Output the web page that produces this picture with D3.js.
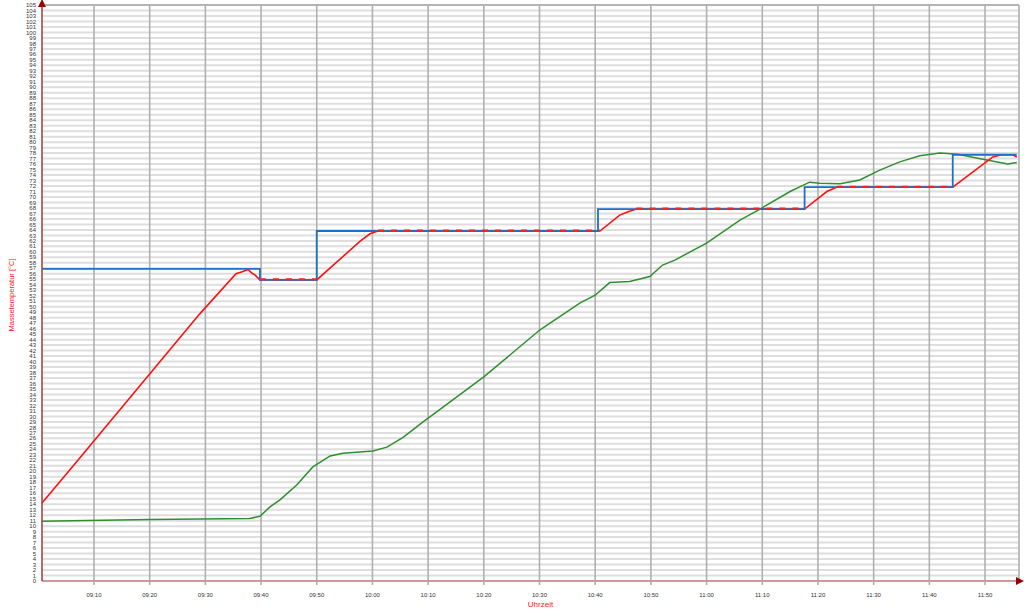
<!DOCTYPE html>
<html>
<head>
<meta charset="utf-8">
<script src="https://cdn.jsdelivr.net/npm/d3@7"></script>
<style>
  body { margin: 0; background: #fff; }
  svg { display: block; font-family: "Liberation Sans", Arial, sans-serif; }
</style>
</head>
<body>
<script>
// Chart size
const width = 1024;
const height = 614;
const margin = { top: 5, right: 5, bottom: 33, left: 42 };

// Time span shown on the x axis
const timeStart = "09:00:40";
const timeEnd = "11:56:06";

// Setpoint (blue step line)
const setTimes = ["09:00:40", "09:39:48", "09:50:00", "10:40:30", "11:17:36", "11:44:12", "11:55:42"];
const setValues = [56.9, 54.9, 63.8, 67.8, 71.8, 77.7, 77.7];

// Massetemperatur (red line)
const redTimes = ["09:00:40", "09:07:11", "09:29:00", "09:35:30", "09:36:45", "09:37:39", "09:38:24", "09:38:54",
  "09:39:48", "09:50:00", "09:57:45", "09:59:33", "10:01:00", "10:40:51", "10:44:24", "10:45:54", "10:47:24",
  "11:17:36", "11:21:36", "11:23:24", "11:44:12", "11:51:24", "11:53:00", "11:55:00", "11:55:42"];
const redValues = [14.2, 22.1, 48.7, 56.0, 56.4, 56.8, 56.1, 55.8,
  54.9, 54.9, 61.9, 63.3, 63.8, 63.8, 66.7, 67.3, 67.8,
  67.8, 71.0, 71.8, 71.8, 77.3, 77.7, 77.7, 77.3];

// Second temperature (green line)
const greenTimes = ["09:00:40", "09:20:00", "09:38:00", "09:39:48", "09:41:36", "09:43:24", "09:46:24", "09:49:18",
  "09:52:24", "09:54:42", "10:00:06", "10:02:36", "10:05:30", "10:09:06", "10:20:00", "10:30:06", "10:37:18",
  "10:40:00", "10:42:36", "10:46:12", "10:49:48", "10:52:06", "10:54:18", "11:00:00", "11:06:00", "11:09:36",
  "11:15:00", "11:18:30", "11:20:18", "11:24:00", "11:27:30", "11:31:06", "11:34:42", "11:38:18", "11:41:54",
  "11:45:06", "11:48:00", "11:51:00", "11:54:06", "11:55:42"];
const greenValues = [10.9, 11.2, 11.4, 11.8, 13.5, 14.8, 17.5, 20.8,
  22.8, 23.3, 23.7, 24.4, 26.2, 29.0, 37.2, 45.8, 50.7,
  52.1, 54.4, 54.6, 55.5, 57.6, 58.5, 61.6, 65.8, 67.8,
  71.0, 72.7, 72.5, 72.4, 73.1, 74.9, 76.4, 77.5, 78.0,
  77.8, 77.2, 76.6, 76.0, 76.3];

// Axis settings
const yMax = 105;
const yTitle = "Massetemperatur [°C]";
const xTitle = "Uhrzeit";

const parse = d3.timeParse("%H:%M:%S");
const toPoints = (ts, vs) => ts.map((t, i) => ({ t: parse(t), v: vs[i] }));

const setData = toPoints(setTimes, setValues);
const redData = toPoints(redTimes, redValues);
const greenData = toPoints(greenTimes, greenValues);

const x = d3.scaleTime()
  .domain([parse(timeStart), parse(timeEnd)])
  .range([margin.left, width - margin.right]);

const y = d3.scaleLinear()
  .domain([0, yMax])
  .range([height - margin.bottom, margin.top]);

const svg = d3.select("body")
  .append("svg")
  .attr("width", width)
  .attr("height", height);

// Horizontal grid, one line per degree
const yTicks = d3.range(0, yMax + 1);
svg.append("g")
  .selectAll("line")
  .data(yTicks)
  .join("line")
  .attr("x1", margin.left)
  .attr("x2", width - margin.right)
  .attr("y1", d => y(d))
  .attr("y2", d => y(d))
  .attr("stroke", d => d === yMax ? "#b4b4b4" : "#dedede")
  .attr("stroke-width", 2);

// Vertical grid every 10 minutes
const xTicks = x.ticks(d3.timeMinute.every(10));
svg.append("g")
  .selectAll("line")
  .data(xTicks)
  .join("line")
  .attr("x1", d => x(d))
  .attr("x2", d => x(d))
  .attr("y1", margin.top)
  .attr("y2", height - margin.bottom + 4)
  .attr("stroke", "#b0b0b0")
  .attr("stroke-width", 1.6);

// right border
svg.append("line")
  .attr("x1", width - margin.right).attr("x2", width - margin.right)
  .attr("y1", margin.top).attr("y2", height - margin.bottom)
  .attr("stroke", "#b0b0b0")
  .attr("stroke-width", 1.6);

// Y tick labels
svg.append("g")
  .selectAll("text")
  .data(yTicks)
  .join("text")
  .attr("x", margin.left - 6)
  .attr("y", d => y(d))
  .attr("dy", "0.35em")
  .attr("text-anchor", "end")
  .style("font-size", "6px")
  .style("fill", "#333")
  .text(d => d);

// X tick labels
const fmt = d3.timeFormat("%H:%M");
svg.append("g")
  .selectAll("text")
  .data(xTicks)
  .join("text")
  .attr("x", d => x(d))
  .attr("y", height - margin.bottom + 16)
  .attr("text-anchor", "middle")
  .style("font-size", "6px")
  .style("fill", "#333")
  .text(d => fmt(d));

// Lines
const line = d3.line().x(d => x(d.t)).y(d => y(d.v));
const stepLine = d3.line().x(d => x(d.t)).y(d => y(d.v)).curve(d3.curveStepAfter);

svg.append("path")
  .datum(greenData)
  .attr("fill", "none")
  .attr("stroke", "#2f8f2f")
  .attr("stroke-width", 1.5)
  .attr("d", line);

svg.append("path")
  .datum(redData)
  .attr("fill", "none")
  .attr("stroke", "#ff1010")
  .attr("stroke-width", 1.6)
  .attr("d", line);

svg.append("path")
  .datum(setData)
  .attr("fill", "none")
  .attr("stroke", "#1f6fc8")
  .attr("stroke-width", 1.8)
  .attr("d", stepLine);

// red on the plateaus shows through the blue as dashes
const plateaus = d3.pairs(redData).filter(([a, b]) =>
  Math.abs(a.v - b.v) < 0.3 && (b.t - a.t) > 3 * 60000);
svg.append("g")
  .selectAll("path")
  .data(plateaus)
  .join("path")
  .attr("fill", "none")
  .attr("stroke", "#ff2020")
  .attr("stroke-width", 2)
  .attr("stroke-dasharray", "6,7")
  .attr("transform", "translate(0,-0.5)")
  .attr("d", line);

// Axes with arrows
const axisColor = "#a04848";
svg.append("line")
  .attr("x1", margin.left).attr("x2", width - margin.right)
  .attr("y1", height - margin.bottom).attr("y2", height - margin.bottom)
  .attr("stroke", "#c89a9a")
  .attr("stroke-width", 2);
svg.append("line")
  .attr("x1", margin.left).attr("x2", margin.left)
  .attr("y1", height - margin.bottom).attr("y2", margin.top - 2)
  .attr("stroke", axisColor)
  .attr("stroke-width", 1.6);

const ax = margin.left, ay = margin.top - 3;
svg.append("path")
  .attr("d", `M${ax},${ay - 3}L${ax - 4},${ay + 5}L${ax + 4},${ay + 5}Z`)
  .attr("fill", "#990000");
const bx = width - margin.right + 2, by = height - margin.bottom;
svg.append("path")
  .attr("d", `M${bx + 3},${by}L${bx - 5},${by - 4}L${bx - 5},${by + 4}Z`)
  .attr("fill", "#990000");

// Axis titles
svg.append("text")
  .attr("transform", `translate(14,${y(yMax / 2) + 2}) rotate(-90)`)
  .attr("text-anchor", "middle")
  .style("font-size", "7.5px")
  .style("fill", "#ff2020")
  .text(yTitle);

svg.append("text")
  .attr("x", (margin.left + width - margin.right) / 2 + 10)
  .attr("y", height - 7)
  .attr("text-anchor", "middle")
  .style("font-size", "8px")
  .style("fill", "#ff2020")
  .text(xTitle);
</script>
</body>
</html>
